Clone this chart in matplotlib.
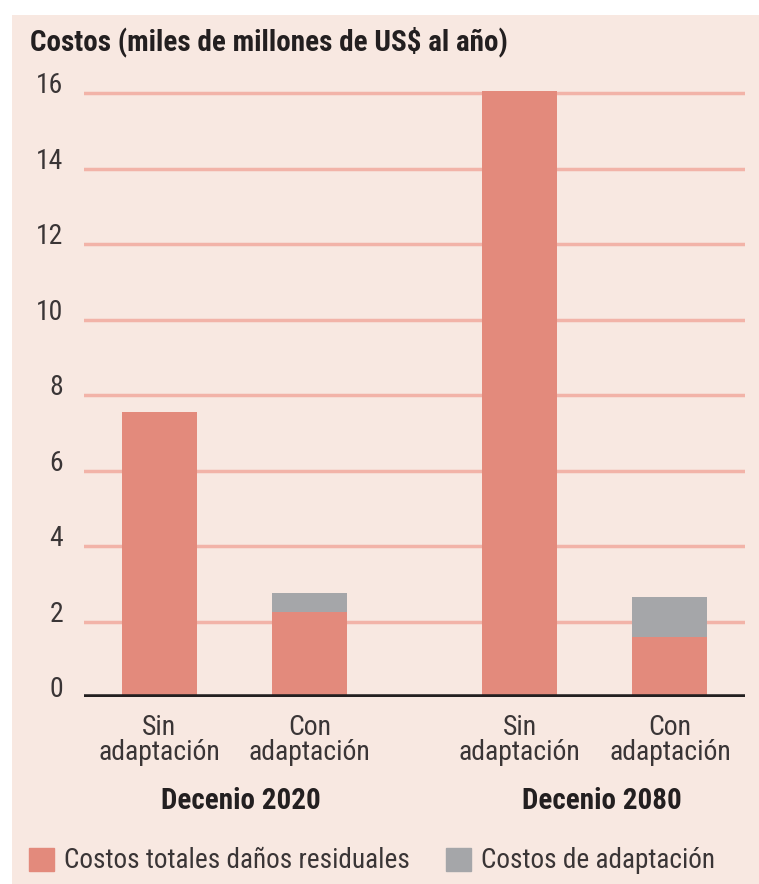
import matplotlib
matplotlib.use("Agg")
import matplotlib.pyplot as plt
from matplotlib.patches import Patch, Rectangle
from matplotlib import font_manager

# costs in thousands of millions of US$ per year
CATEGORIES = ["Sin\nadaptación", "Con\nadaptación", "Sin\nadaptación", "Con\nadaptación"]
GROUPS = ["Decenio 2020", "Decenio 2080"]
POSITIONS = [0, 1, 2.4, 3.4]
RESIDUAL = [7.55, 2.25, 16.05, 1.6]
ADAPTATION = [0, 0.5, 0, 1.05]
YTICKS = [0, 2, 4, 6, 8, 10, 12, 14, 16]

PANEL = "#f8e8e1"
RED = "#e38a7c"
GREY = "#a5a6a9"
GRID = "#f2b3a8"
INK = "#231f20"
TEXT = "#3a3536"

# narrow sans if one is around, otherwise DejaVu at a smaller size
names = {f.name for f in font_manager.fontManager.ttflist}
narrow = [n for n in ["Roboto Condensed", "Archivo Narrow", "PT Sans Narrow",
                      "Fira Sans Condensed", "IBM Plex Sans Condensed",
                      "Sofia Sans Semi Condensed"] if n in names]
if narrow:
    plt.rcParams["font.family"] = [narrow[0], "DejaVu Sans"]
    FS = 20
else:
    plt.rcParams["font.family"] = ["DejaVu Sans"]
    FS = 15
plt.rcParams["text.color"] = INK

fig = plt.figure(figsize=(7.59, 8.84), dpi=100)
fig.patches.append(Rectangle((12 / 759, 0), 1, 1 - 15 / 884, transform=fig.transFigure,
                             facecolor=PANEL, edgecolor="none", zorder=-10))

ax = fig.add_axes([84 / 759, 0.2115, 661 / 759, 0.6939])
ax.set_facecolor("none")
ax.bar(POSITIONS, RESIDUAL, width=0.5, color=RED, zorder=3)
ax.bar(POSITIONS, ADAPTATION, width=0.5, bottom=RESIDUAL, color=GREY, zorder=3)

ax.set_xlim(-0.5, 3.9)
ax.set_ylim(0, 16.25)
ax.set_yticks(YTICKS)
ax.set_yticklabels([str(t) for t in YTICKS], fontsize=FS, color=TEXT)
for lbl in ax.get_yticklabels():
    lbl.set_va("baseline")
ax.tick_params(axis="y", length=0, pad=15)
ax.grid(axis="y", color=GRID, lw=2.5, zorder=1)
ax.axhline(0, color=INK, lw=4, zorder=4)

ax.set_xticks(POSITIONS)
ax.set_xticklabels(CATEGORIES, fontsize=FS, linespacing=0.9, color=TEXT)
ax.tick_params(axis="x", length=0, pad=12)
for side in ["top", "right", "left", "bottom"]:
    ax.spines[side].set_visible(False)

for i, g in enumerate(GROUPS):
    xc = (POSITIONS[2 * i] + POSITIONS[2 * i + 1]) / 2
    ax.annotate(g, xy=(xc, 0), xycoords=("data", "axes fraction"), xytext=(5, -75),
                textcoords="offset points", ha="center", va="center",
                fontsize=FS * 1.05, fontweight="bold")

fig.text(30 / 759, 1 - 42 / 884, "Costos (miles de millones de US$ al año)",
         fontsize=FS * 1.05, fontweight="bold", va="center", ha="left")

handles = [Patch(color=RED, label="Costos totales daños residuales"),
           Patch(color=GREY, label="Costos de adaptación")]
fig.legend(handles=handles, loc="center left", bbox_to_anchor=(29 / 759, 1 - 861 / 884),
           ncol=2, frameon=False, fontsize=FS * 0.98, handlelength=0.92, handleheight=0.92,
           handletextpad=0.35, columnspacing=1.35, borderaxespad=0, borderpad=0,
           labelcolor=TEXT)

fig.savefig("out.png", dpi=100)
